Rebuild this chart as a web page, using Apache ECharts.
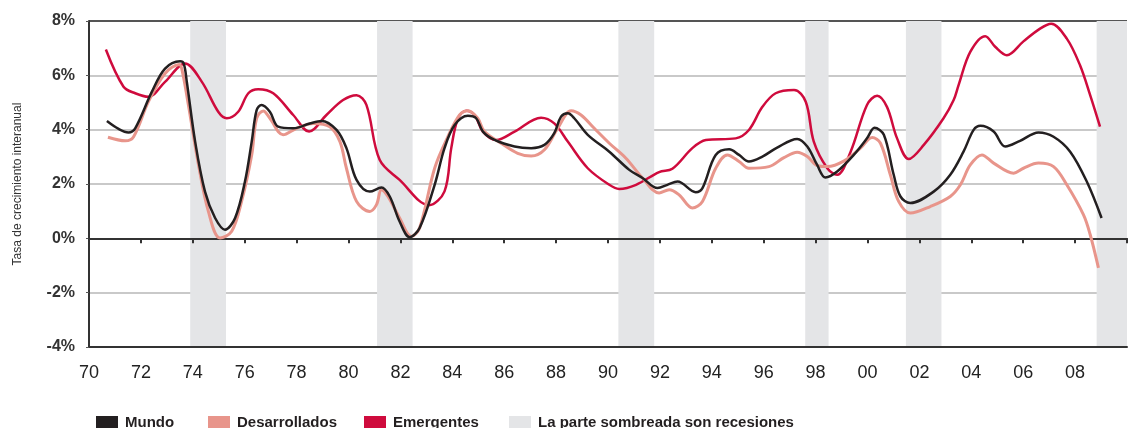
<!DOCTYPE html>
<html>
<head>
<meta charset="utf-8">
<script src="https://cdn.jsdelivr.net/npm/echarts@6/dist/echarts.min.js"></script>
<style>
  html, body { margin: 0; padding: 0; background: #fff; }
</style>
</head>
<body>
<div id="growth-chart-container" style="width: 1130px; height: 428px"></div>
<script>
// años (eje x) y tasas de crecimiento (%)
var mundoYears = [1970.69, 1971.14, 1971.52, 1971.78, 1972.42, 1972.93, 1973.51, 1973.65, 1973.77, 1974.09, 1974.47, 1974.86, 1975.24, 1975.63, 1976.01, 1976.27, 1976.46, 1976.65, 1976.97, 1977.29, 1977.87, 1978.51, 1978.96, 1979.54, 1979.92, 1980.31, 1980.82, 1981.27, 1981.59, 1981.97, 1982.36, 1982.74, 1983.32, 1983.7, 1984.09, 1984.6, 1984.92, 1985.18, 1985.63, 1986.4, 1987.04, 1987.55, 1987.93, 1988.19, 1988.45, 1988.7, 1989.22, 1990.05, 1990.82, 1991.33, 1991.91, 1992.29, 1992.68, 1993.38, 1993.64, 1994.15, 1994.67, 1995.05, 1995.43, 1995.95, 1996.5, 1997.29, 1997.68, 1998.06, 1998.38, 1998.83, 1999.47, 1999.98, 2000.27, 2000.63, 2001.01, 2001.27, 2001.65, 2002.55, 2003.19, 2003.7, 2004.09, 2004.35, 2004.86, 2005.31, 2005.88, 2006.59, 2007.17, 2007.81, 2008.45, 2009.02];
var mundoValues = [4.32, 4.03, 3.90, 4.05, 5.39, 6.25, 6.52, 6.44, 5.76, 3.56, 1.72, 0.75, 0.32, 0.75, 2.09, 3.56, 4.72, 4.91, 4.66, 4.11, 4.05, 4.23, 4.32, 3.99, 3.32, 2.15, 1.72, 1.87, 1.54, 0.62, 0.04, 0.38, 1.97, 3.32, 4.17, 4.51, 4.42, 3.93, 3.62, 3.38, 3.32, 3.44, 3.87, 4.48, 4.60, 4.42, 3.81, 3.19, 2.52, 2.22, 1.85, 1.97, 2.09, 1.70, 1.85, 3.07, 3.28, 3.07, 2.83, 3.01, 3.33, 3.66, 3.38, 2.70, 2.24, 2.46, 3.07, 3.68, 4.07, 3.81, 2.34, 1.54, 1.30, 1.72, 2.34, 3.19, 3.99, 4.14, 3.93, 3.38, 3.59, 3.90, 3.74, 3.19, 2.09, 0.75];

var desarrolladosYears = [1970.73, 1971.4, 1971.72, 1972.29, 1972.93, 1973.48, 1973.6, 1973.83, 1974.22, 1974.6, 1975.05, 1975.5, 1975.88, 1976.27, 1976.46, 1976.72, 1976.97, 1977.48, 1978.0, 1978.64, 1979.28, 1979.67, 1979.92, 1980.31, 1980.82, 1981.08, 1981.27, 1981.52, 1981.97, 1982.42, 1982.74, 1983.32, 1983.83, 1984.28, 1984.6, 1984.98, 1985.24, 1985.88, 1986.52, 1987.04, 1987.55, 1988.06, 1988.58, 1988.96, 1989.47, 1990.05, 1990.69, 1991.33, 1991.97, 1992.36, 1992.74, 1993.25, 1993.64, 1994.15, 1994.6, 1995.05, 1995.43, 1996.2, 1996.78, 1997.29, 1997.68, 1998.06, 1998.45, 1999.1, 1999.73, 2000.18, 2000.5, 2000.88, 2001.2, 2001.65, 2002.42, 2003.19, 2003.58, 2003.96, 2004.41, 2004.86, 2005.63, 2006.01, 2006.59, 2007.17, 2007.68, 2008.32, 2008.58, 2008.9];
var desarrolladosValues = [3.72, 3.59, 3.74, 5.03, 6.07, 6.40, 6.13, 4.91, 2.70, 0.99, 0.01, 0.26, 1.36, 3.07, 4.42, 4.69, 4.42, 3.81, 4.05, 4.23, 4.11, 3.56, 2.58, 1.36, 0.99, 1.24, 1.79, 1.54, 0.75, 0.07, 0.38, 2.58, 3.74, 4.54, 4.70, 4.42, 3.93, 3.50, 3.13, 3.03, 3.26, 4.05, 4.70, 4.54, 4.05, 3.50, 2.95, 2.22, 1.67, 1.79, 1.60, 1.12, 1.36, 2.58, 3.07, 2.83, 2.58, 2.64, 2.97, 3.17, 3.01, 2.68, 2.64, 2.85, 3.32, 3.71, 3.50, 2.34, 1.36, 0.93, 1.17, 1.54, 1.97, 2.70, 3.07, 2.77, 2.40, 2.58, 2.77, 2.64, 1.97, 0.87, 0.14, -1.09];

var emergentesYears = [1970.65, 1971.33, 1971.78, 1972.29, 1972.93, 1973.7, 1974.35, 1974.98, 1975.31, 1975.75, 1976.14, 1976.52, 1977.1, 1977.87, 1978.48, 1979.15, 1979.79, 1980.31, 1980.69, 1981.2, 1981.97, 1983.1, 1983.7, 1983.96, 1984.22, 1984.54, 1984.86, 1985.18, 1985.69, 1986.4, 1987.42, 1987.93, 1988.45, 1989.22, 1990.05, 1990.43, 1991.08, 1991.97, 1992.48, 1993.25, 1993.77, 1994.92, 1995.43, 1995.95, 1996.46, 1997.17, 1997.62, 1997.93, 1998.45, 1998.83, 1999.35, 1999.98, 2000.37, 2000.75, 2001.14, 2001.59, 2002.17, 2002.93, 2003.32, 2003.51, 2003.96, 2004.54, 2004.92, 2005.37, 2006.01, 2006.65, 2007.08, 2007.68, 2008.19, 2008.58, 2008.96];
var emergentesValues = [6.95, 5.58, 5.34, 5.21, 5.76, 6.44, 5.76, 4.66, 4.42, 4.66, 5.34, 5.49, 5.34, 4.54, 3.93, 4.54, 5.09, 5.27, 4.91, 2.89, 2.15, 1.22, 1.73, 3.32, 4.42, 4.70, 4.54, 3.93, 3.62, 3.93, 4.44, 4.23, 3.56, 2.58, 1.97, 1.82, 1.97, 2.44, 2.56, 3.32, 3.62, 3.68, 3.99, 4.84, 5.34, 5.46, 5.03, 3.56, 2.58, 2.34, 3.19, 4.91, 5.25, 4.84, 3.68, 2.92, 3.44, 4.42, 5.09, 5.64, 6.86, 7.44, 7.05, 6.74, 7.25, 7.72, 7.90, 7.35, 6.37, 5.27, 4.11];

// recesiones: inicio y fin
var recessionStart = [1973.9, 1981.1, 1990.4, 1997.6, 2001.48, 2008.83];
var recessionEnd = [1975.28, 1982.47, 1991.78, 1998.5, 2002.85, 2010];

var yTicks = [-4, -2, 0, 2, 4, 6, 8];

var legendNames = ["Mundo", "Desarrollados", "Emergentes", "La parte sombreada son recesiones"];
var legendLeft = [91, 203, 359, 504];

function pairs(xs, ys) {
  var out = [];
  for (var i = 0; i < xs.length; i++) out.push([xs[i], ys[i]]);
  return out;
}

var areas = [];
for (var i = 0; i < recessionStart.length; i++) {
  areas.push([{ xAxis: recessionStart[i] }, { xAxis: recessionEnd[i] }]);
}

var colors = {
  mundo: "#231f20",
  desarrollados: "#e8958b",
  emergentes: "#cf0b3d",
  recesion: "#e4e5e7",
};
var regular = "'Liberation Sans', Arial, sans-serif";

// una leyenda por elemento, para fijar su posición
var legends = legendNames.map(function (name, i) {
  return {
    left: legendLeft[i],
    top: 410,
    itemWidth: 22,
    itemHeight: 13,
    icon: "rect",
    data: [name],
    textStyle: {
      fontFamily: regular,
      fontWeight: "bold",
      fontSize: 15,
      color: "#231f20",
      padding: [0, 0, 0, 2],
    },
  };
});

var myChart = echarts.init(document.getElementById("growth-chart-container"));

var option = {
  animation: false,
  grid: { left: 89, right: 1, top: 21, bottom: 81 },
  legend: legends,
  xAxis: [
    {
      type: "value",
      min: 1970,
      max: 2010,
      interval: 2,
      position: "bottom",
      axisLine: { onZero: false, lineStyle: { color: "#333", width: 2 } },
      axisTick: { show: false },
      splitLine: { show: false },
      axisLabel: {
        margin: 17,
        fontFamily: regular,
        fontSize: 18,
        color: "#222",
        formatter: function (v) {
          if (v >= 2010) return "";
          return String(v).slice(2);
        },
      },
      z: 1,
    },
    {
      type: "value",
      min: 1970,
      max: 2010,
      interval: 2,
      position: "bottom",
      axisLine: { onZero: true, lineStyle: { color: "#333", width: 2 } },
      axisTick: { show: true, length: 5, lineStyle: { color: "#333", width: 2 } },
      splitLine: { show: false },
      axisLabel: { show: false },
      z: 1,
    },
  ],
  yAxis: {
    type: "value",
    min: -4,
    max: 8,
    interval: 2,
    name: "Tasa de crecimiento interanual",
    nameLocation: "middle",
    nameGap: 65,
    nameRotate: 90,
    nameTextStyle: { fontFamily: regular, fontSize: 12, color: "#333" },
    axisLine: { show: true, lineStyle: { color: "#333", width: 2 } },
    axisTick: { show: true, length: 3, lineStyle: { color: "#555" } },
    axisLabel: {
      margin: 14,
      fontFamily: regular,
      fontWeight: "bold",
      fontSize: 16,
      color: "#333",
      formatter: "{value}%",
    },
    splitLine: {
      show: true,
      lineStyle: {
        width: 2,
        color: yTicks.map(function (t) {
          if (t === 8) return "#555";
          if (t === -4 || t === 0) return "#333";
          return "#c9c9c9";
        }),
      },
    },
    z: 1,
  },
  series: [
    {
      name: "La parte sombreada son recesiones",
      type: "line",
      data: [],
      z: 0,
      itemStyle: { color: colors.recesion },
      lineStyle: { color: colors.recesion },
      markArea: {
        silent: true,
        itemStyle: { color: colors.recesion },
        data: areas,
      },
    },
    {
      name: "Emergentes",
      type: "line",
      data: pairs(emergentesYears, emergentesValues),
      smooth: 0.35,
      showSymbol: false,
      z: 3,
      itemStyle: { color: colors.emergentes },
      lineStyle: { color: colors.emergentes, width: 2.5 },
    },
    {
      name: "Desarrollados",
      type: "line",
      data: pairs(desarrolladosYears, desarrolladosValues),
      smooth: 0.35,
      showSymbol: false,
      z: 3,
      itemStyle: { color: colors.desarrollados },
      lineStyle: { color: colors.desarrollados, width: 3 },
    },
    {
      name: "Mundo",
      type: "line",
      data: pairs(mundoYears, mundoValues),
      smooth: 0.35,
      showSymbol: false,
      z: 4,
      itemStyle: { color: colors.mundo },
      lineStyle: { color: colors.mundo, width: 2.5 },
    },
  ],
};

myChart.setOption(option);
</script>
</body>
</html>
